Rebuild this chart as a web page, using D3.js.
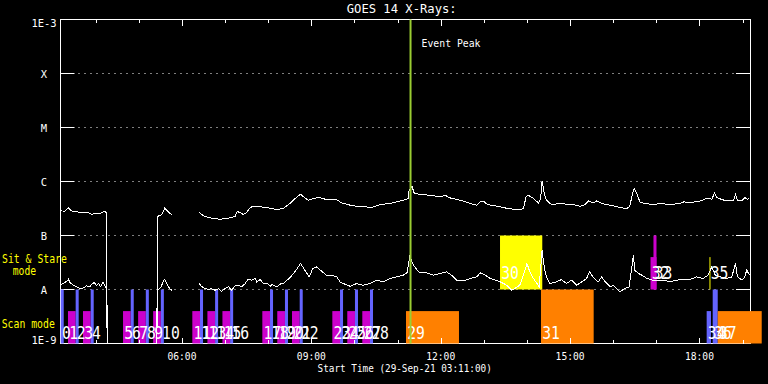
<!DOCTYPE html>
<html><head><meta charset="utf-8">
<script src="https://cdn.jsdelivr.net/npm/d3@7"></script>
<style>
html,body{margin:0;padding:0;background:#000;}
svg{display:block;}
</style></head>
<body><svg id="chart" width="768" height="384"></svg>
<script>
// ---------------- data ----------------
const startTime = "2021-09-29T03:11:00Z";
const spanMinutes = 960;
const titleText = "GOES 14 X-Rays:";
const xAxisTitle = "Start Time (29-Sep-21 03:11:00)";
const xTickLabels = ["06:00", "09:00", "12:00", "15:00", "18:00"];
const yTickValues = [1e-9, 1e-8, 1e-7, 1e-6, 1e-5, 1e-4, 1e-3];
const yTickLabels = ["1E-9", "A", "B", "C", "M", "X", "1E-3"];
const gridValues = [1e-8, 1e-7, 1e-6, 1e-5, 1e-4];
const eventPeakMinute = 487;
const eventLabel = "Event Peak";
const modeLabels = ["Sit & Stare", "mode", "Scan mode"];

// [minutes after start, flux W/m^2]; 0 = dropout, null = no data
const longChannel = [
 [0,2.86e-7],[6,2.82e-7],[11,3.24e-7],[16,2.82e-7],[27,2.70e-7],[34,2.62e-7],[37,2.70e-7],[43,2.48e-7],
 [50,2.55e-7],[57,2.62e-7],[61,2.82e-7],[64,2.62e-7],[65,0],[134,0],[135,2.21e-7],[136,2.28e-7],
 [141,2.45e-7],[143,2.74e-7],[145,3.21e-7],[150,2.74e-7],[155,2.41e-7],[175,null],
 [193,2.67e-7],[199,2.31e-7],[206,2.15e-7],[208,2.12e-7],[222,2.00e-7],[236,2.12e-7],[243,2.28e-7],
 [246,2.77e-7],[251,2.62e-7],[254,2.45e-7],[259,2.67e-7],[263,3.16e-7],[266,3.39e-7],[278,3.39e-7],
 [287,3.30e-7],[294,3.16e-7],[301,3.03e-7],[310,3.16e-7],[319,3.91e-7],[329,5.19e-7],[334,5.82e-7],
 [340,4.97e-7],[345,4.51e-7],[352,4.84e-7],[359,5.06e-7],[370,4.64e-7],[384,4.64e-7],[391,4.02e-7],
 [403,3.64e-7],[412,3.49e-7],[424,3.39e-7],[433,3.30e-7],[442,3.64e-7],[449,3.80e-7],[458,3.91e-7],
 [468,4.19e-7],[477,4.51e-7],[484,4.84e-7],[485,6.90e-7],[489,8.18e-7],[492,6.15e-7],[500,5.74e-7],
 [514,5.57e-7],[528,5.19e-7],[535,5.57e-7],[542,4.97e-7],[556,4.51e-7],[570,3.91e-7],[579,3.64e-7],
 [584,4.19e-7],[588,4.37e-7],[594,3.75e-7],[607,3.49e-7],[625,3.11e-7],[639,3.03e-7],[644,3.16e-7],
 [648,5.34e-7],[651,5.57e-7],[658,4.84e-7],[665,4.02e-7],[668,4.84e-7],[670,1.03e-6],[673,6.00e-7],
 [676,4.51e-7],[683,3.75e-7],[695,3.91e-7],[704,3.80e-7],[713,3.75e-7],[723,3.49e-7],[730,3.75e-7],
 [735,4.37e-7],[741,4.02e-7],[746,4.37e-7],[753,3.91e-7],[765,3.64e-7],[778,3.30e-7],[788,3.16e-7],
 [792,3.49e-7],[796,6.00e-7],[798,7.42e-7],[802,6.00e-7],[806,4.19e-7],[813,3.91e-7],[825,3.75e-7],
 [834,3.91e-7],[848,3.75e-7],[862,3.91e-7],[867,4.19e-7],[878,4.08e-7],[890,4.37e-7],[899,4.84e-7],
 [904,4.84e-7],[906,4.64e-7],[910,6.15e-7],[913,5.06e-7],[920,4.64e-7],[927,4.37e-7],[936,4.37e-7],
 [939,5.74e-7],[942,4.51e-7],[948,4.37e-7],[952,5.06e-7],[956,4.64e-7],[958,4.84e-7]
];
const shortChannel = [
 [1,1.24e-8],[4,1.29e-8],[9,1.43e-8],[11,1.55e-8],[13,1.35e-8],[18,1.20e-8],[23,1.12e-8],[27,1.04e-8],
 [32,1.07e-8],[36,1.17e-8],[41,1.12e-8],[43,1.24e-8],[47,1.35e-8],[50,1.17e-8],[53,1.29e-8],[56,1.12e-8],
 [59,1.38e-8],[62,1.17e-8],[64,1.04e-8],[65,0],[134,0],[135,9.70e-9],[140,1.12e-8],[143,1.43e-8],
 [145,1.55e-8],[149,1.20e-8],[152,1.04e-8],[155,9.70e-9],[175,null],
 [193,1.29e-8],[196,1.15e-8],[201,1.04e-8],[206,1.00e-8],[210,1.04e-8],[215,9.70e-9],[220,1.04e-8],
 [224,9.30e-9],[229,1.04e-8],[234,1.12e-8],[238,9.70e-9],[243,1.17e-8],[247,1.20e-8],[252,1.12e-8],
 [257,1.29e-8],[261,1.55e-8],[266,1.49e-8],[271,1.60e-8],[273,1.38e-8],[278,1.53e-8],[282,1.29e-8],
 [287,1.32e-8],[292,1.15e-8],[294,1.25e-8],[301,1.12e-8],[308,1.32e-8],[310,1.29e-8],[315,1.49e-8],
 [319,1.64e-8],[324,1.98e-8],[326,2.12e-8],[334,3.03e-8],[340,2.28e-8],[346,1.71e-8],[351,2.45e-8],
 [356,2.62e-8],[363,2.21e-8],[370,1.84e-8],[384,1.76e-8],[389,1.38e-8],[396,1.25e-8],[403,1.15e-8],
 [412,1.29e-8],[421,1.20e-8],[431,1.29e-8],[440,1.49e-8],[449,1.38e-8],[458,1.60e-8],[468,1.71e-8],
 [477,1.84e-8],[482,2.03e-8],[486,4.14e-8],[491,2.82e-8],[498,2.12e-8],[509,2.03e-8],[519,1.84e-8],
 [528,1.98e-8],[537,2.12e-8],[544,1.84e-8],[551,1.49e-8],[560,1.44e-8],[570,1.60e-8],[579,1.71e-8],
 [584,2.03e-8],[591,1.84e-8],[598,1.60e-8],[605,1.49e-8],[612,1.38e-8],[621,1.20e-8],[628,9.70e-9],
 [632,1.04e-8],[639,1.20e-8],[644,1.84e-8],[649,3.03e-8],[653,2.12e-8],[658,1.60e-8],[663,1.29e-8],
 [666,1.12e-8],[670,5.34e-8],[673,2.62e-8],[676,1.71e-8],[681,1.29e-8],[690,1.38e-8],[697,1.53e-8],
 [704,1.29e-8],[711,1.49e-8],[718,1.20e-8],[725,1.38e-8],[732,1.60e-8],[736,2.12e-8],[741,1.71e-8],
 [748,1.38e-8],[753,1.71e-8],[758,1.38e-8],[765,1.12e-8],[769,1.20e-8],[778,9.03e-9],[785,1.04e-8],
 [791,1.12e-8],[795,2.62e-8],[797,4.32e-8],[799,2.28e-8],[804,1.98e-8],[809,1.84e-8],[816,1.60e-8],
 [823,1.49e-8],[830,1.49e-8],[839,1.49e-8],[848,1.38e-8],[857,1.49e-8],[867,1.53e-8],[876,1.53e-8],
 [885,1.71e-8],[894,1.60e-8],[901,1.84e-8],[906,2.62e-8],[911,1.84e-8],[918,1.71e-8],[927,1.60e-8],
 [934,1.71e-8],[939,3.03e-8],[942,1.71e-8],[948,1.49e-8],[952,1.71e-8],[955,2.35e-8],[957,1.98e-8],
 [959,1.84e-8]
];

// observations: number, start/end (minutes after start), mode, kind, level (fraction of band)
const obsNumber = [0,1,2,3,4,5,6,7,8,9,10,11,12,13,14,15,16,17,18,19,20,21,22,23,24,25,26,27,28,29,30,31,32,33,34,35,36,37];
const obsStart = [0.3,10.4,21.1,31.3,42.0, 87.0,97.7,108.0,118.7,128.9,139.6, 183.4,194.1,204.4,215.1,225.3,236.0,
                  280.8,291.5,301.6,312.3,322.1,332.8, 378.2,388.9,399.0,409.7,419.9,430.6,
                  480.7,611.5,668.5,820.9,825.0,899.0,902.9,907.4,914.4];
const obsEnd   = [4.5,21.1,25.3,42.0,46.2, 97.7,101.9,118.7,122.9,139.6,143.8, 194.1,198.3,215.1,219.3,236.0,240.2,
                  291.5,295.7,312.3,316.5,332.8,337.0, 388.9,393.1,409.7,413.9,430.6,434.8,
                  554.4,670.3,741.8,829.2,829.2,905.0,904.3,914.4,975.6];
const obsMode  = ["scan","scan","scan","scan","scan","scan","scan","scan","scan","scan","scan","scan","scan","scan",
                  "scan","scan","scan","scan","scan","scan","scan","scan","scan","scan","scan","scan","scan","scan",
                  "scan","scan","sit","scan","sit","sit","scan","sit","scan","scan"];
const obsKind  = ["B","A","B","A","B","A","B","A","B","A","B","A","B","A","B","A","B","A","B","A","B","A","B",
                  "A","B","A","B","A","B","C","D","C","A","A","B","D","B","C"];
const obsLevel = [1,0.6,1,0.6,1,0.6,1,0.6,1,0.6,1,0.6,1,0.6,1,0.6,1,0.6,1,0.6,1,0.6,1,0.6,1,0.6,1,0.6,1,
                  0.6,1,1,0.6,1,0.6,0.6,1,0.6];
const modeBands = {scan: [1e-9, 1e-8], sit: [1e-8, 1e-7]};
const kindColors = {A: "#cc00cc", B: "#6464ff", C: "#ff8000", D: "#ffff00"};

// ---------------- chart ----------------
const svg = d3.select("#chart");
svg.append("rect").attr("width", 768).attr("height", 384).attr("fill", "#000");
const t0 = new Date(startTime);
const toDate = m => new Date(t0.getTime() + m * 60000);
const x = d3.scaleUtc().domain([t0, toDate(spanMinutes)]).range([60.5, 750.5]);
const y = d3.scaleLog().domain([1e-9, 1e-3]).range([343.5, 19.5]).clamp(true);
const [L, R] = x.range();
const [B, T] = y.range();

const FONT = "DejaVu Sans Mono";
function txt(str, tx, ty, size, pitch, anchor, color) {
  return svg.append("text").attr("x", tx).attr("y", ty)
    .attr("font-family", FONT).attr("font-size", size)
    .attr("fill", color || "#fff").attr("text-anchor", anchor || "start")
    .attr("textLength", str.length * pitch).attr("lengthAdjust", "spacingAndGlyphs")
    .text(str);
}

// frame
svg.append("rect").attr("x", L).attr("y", T).attr("width", R - L).attr("height", B - T)
  .attr("fill", "none").attr("stroke", "#fff").attr("stroke-width", 1).attr("shape-rendering", "crispEdges");

// grid: solid ticks at both ends, dotted between
const grid = svg.append("g").attr("stroke", "#fff").attr("stroke-width", 1);
gridValues.forEach(v => {
  const gy = y(v);
  grid.append("line").attr("x1", L).attr("x2", L + 14).attr("y1", gy).attr("y2", gy);
  grid.append("line").attr("x1", R - 14.5).attr("x2", R).attr("y1", gy).attr("y2", gy);
  grid.append("line").attr("x1", L + 18).attr("x2", R - 15).attr("y1", gy).attr("y2", gy)
    .attr("stroke-dasharray", "1,5");
});

// observation bars
const obs = obsNumber.map((n, i) => ({n, s: obsStart[i], e: obsEnd[i], mode: obsMode[i], kind: obsKind[i], level: obsLevel[i]}));
const bandY = d => { const [lo, hi] = modeBands[d.mode]; return [y(lo), y(hi)]; };
svg.append("g").selectAll("rect").data(obs).join("rect")
  .attr("x", d => x(toDate(d.s)))
  .attr("width", d => Math.max(1, x(toDate(d.e)) - x(toDate(d.s))))
  .attr("y", d => { const [b, t] = bandY(d); return b - d.level * (b - t); })
  .attr("height", d => { const [b, t] = bandY(d); return d.level * (b - t); })
  .attr("fill", d => kindColors[d.kind]);

// axes ticks (top pointing down, bottom pointing up)
const hourTicks = d3.utcHour.range(toDate(0), toDate(spanMinutes));
const majorTicks = xTickLabels.map(s => new Date("2021-09-29T" + s + ":00Z"));
const axG = svg.append("g").attr("stroke", "#fff").attr("shape-rendering", "crispEdges");
hourTicks.forEach(h => {
  const major = majorTicks.some(m => +m === +h);
  const hx = Math.round(x(h)) + 0.5;
  axG.append("line").attr("x1", hx).attr("x2", hx).attr("y1", T).attr("y2", T + (major ? 6 : 3.5));
  axG.append("line").attr("x1", hx).attr("x2", hx).attr("y1", B).attr("y2", B - (major ? 6 : 4));
});

// curves
const line = d3.line()
  .defined(d => d[1] !== null)
  .x(d => x(toDate(d[0])))
  .y(d => d[1] > 0 ? y(d[1]) : B);
[longChannel, shortChannel].forEach(series => {
  svg.append("path").datum(series).attr("d", line)
    .attr("fill", "none").attr("stroke", "#fff").attr("stroke-width", 1)
    .attr("shape-rendering", "crispEdges");
});

// observation numbers
obs.forEach(d => {
  const [b] = bandY(d);
  const ly = d.mode === "scan" ? b - 4.5 : b - 11;
  txt(String(d.n), x(toDate(d.s)) + 1.2, ly, 17, 8.85, "start", "#fff");
});

// event peak
const ex = x(toDate(eventPeakMinute));
svg.append("line").attr("x1", ex).attr("x2", ex).attr("y1", T).attr("y2", B)
  .attr("stroke", "#9acd32").attr("stroke-width", 2);
txt(eventLabel, ex + 11, 47, 11, 5.9, "start");

// y labels
yTickValues.forEach((v, i) => {
  const cy = Math.min(Math.max(y(v), 23), 339.7);
  txt(yTickLabels[i], 44, cy + 4, 11, 6.3, "middle");
});

// x labels
majorTicks.forEach((m, i) => txt(xTickLabels[i], x(m), 359.5, 11, 5.8, "middle"));
txt(xAxisTitle, 404.7, 372, 11, 5.62, "middle");
txt(titleText, 401.7, 13.3, 12, 7.33, "middle");

// mode labels
txt(modeLabels[0], 2, 263.3, 11.5, 5.9, "start", "#ffff00");
txt(modeLabels[1], 12.7, 275, 11.5, 5.85, "start", "#ffff00");
txt(modeLabels[2], 1.7, 328.3, 11.5, 5.9, "start", "#ffff00");
</script>
</body></html>
